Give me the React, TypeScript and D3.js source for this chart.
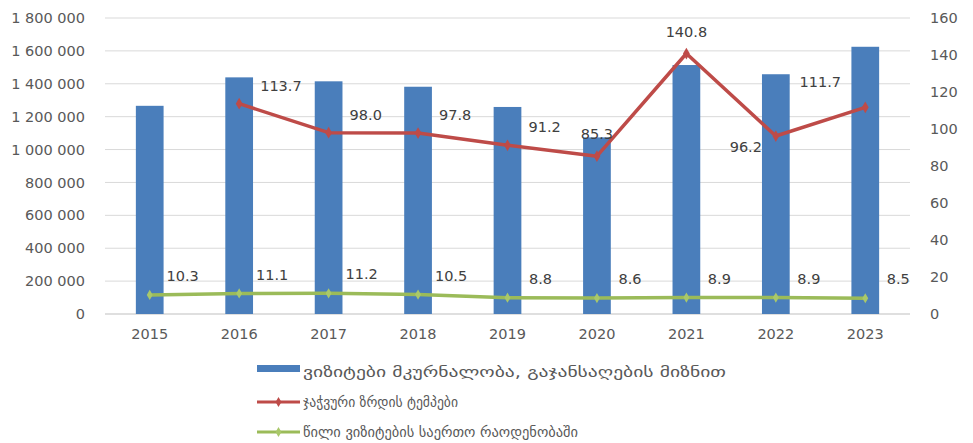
import React from "react";
import * as d3 from "d3";

const years = ["2015", "2016", "2017", "2018", "2019", "2020", "2021", "2022", "2023"];
const visits = [1266000, 1439000, 1415000, 1382000, 1259000, 1074000, 1514000, 1458000, 1625000];
const growth: (number | null)[] = [null, 113.7, 98.0, 97.8, 91.2, 85.3, 140.8, 96.2, 111.7];
const share = [10.3, 11.1, 11.2, 10.5, 8.8, 8.6, 8.9, 8.9, 8.5];
const growthLabelPlace = ["", "right", "right", "right", "right", "above", "above", "belowLeft", "leftAbove"];
const leftTicks = [0, 200000, 400000, 600000, 800000, 1000000, 1200000, 1400000, 1600000, 1800000];
const rightTicks = [0, 20, 40, 60, 80, 100, 120, 140, 160];
const legendLabels = [
  "ვიზიტები  მკურნალობა, გაჯანსაღების მიზნით",
  "ჯაჭვური ზრდის ტემპები",
  "წილი ვიზიტების საერთო რაოდენობაში",
];

const W = 973;
const H = 443;
const plotL = 105;
const plotR = 910;
const plotT = 18;
const plotB = 314;

const blue = "#4a7ebb";
const red = "#be4b48";
const green = "#9bbb59";
const textCol = "#595959";
const font = "DejaVu Sans, sans-serif";

const fmt = (v: number) => d3.format(",")(v).replace(/,/g, " ");

export default function App() {
  const x = d3.scaleBand<string>().domain(years).range([plotL, plotR]).paddingInner(0.69).paddingOuter(0.345);
  const xc = (y: string) => (x(y) as number) + x.bandwidth() / 2;
  const yL = d3.scaleLinear().domain([0, 1800000]).range([plotB, plotT]);
  const yR = d3.scaleLinear().domain([0, 160]).range([plotB, plotT]);

  const lineGen = d3
    .line<{ x: number; y: number }>()
    .x((d) => d.x)
    .y((d) => d.y);

  const redPts = years
    .map((y, i) => ({ x: xc(y), y: growth[i] == null ? NaN : yR(growth[i] as number), v: growth[i], i }))
    .filter((d) => d.v != null);
  const greenPts = years.map((y, i) => ({ x: xc(y), y: yR(share[i]), v: share[i], i }));

  const diamond = d3.symbol().type(d3.symbolDiamond).size(40)() as string;
  const diamondSmall = d3.symbol().type(d3.symbolDiamond).size(30)() as string;

  const redLabelPos = (p: { x: number; y: number }, place: string) => {
    switch (place) {
      case "above":
        return { x: p.x, y: p.y - 22, anchor: "middle" };
      case "belowLeft":
        return { x: p.x - 30, y: p.y + 11, anchor: "middle" };
      case "leftAbove":
        return { x: p.x - 45, y: p.y - 25, anchor: "middle" };
      default:
        return { x: p.x + 21, y: p.y - 18, anchor: "start" };
    }
  };

  const legendLens = [423, 155, 275];

  return (
    <svg
      width={W}
      height={H}
      style={{ position: "absolute", left: 0, top: 0, background: "#fff" }}
      fontFamily={font}
    >
      {leftTicks.map((t) => (
        <line key={t} x1={plotL} x2={plotR} y1={yL(t)} y2={yL(t)} stroke={t === 0 ? "#bfbfbf" : "#d9d9d9"} strokeWidth={1} />
      ))}
      {leftTicks.map((t) => (
        <text key={"l" + t} x={85} y={yL(t)} dy="0.35em" textAnchor="end" fontSize={14.5} fill={textCol}>
          {fmt(t)}
        </text>
      ))}
      {rightTicks.map((t) => (
        <text key={"r" + t} x={930} y={yR(t)} dy="0.35em" textAnchor="start" fontSize={14.5} fill={textCol}>
          {t}
        </text>
      ))}
      {years.map((y) => (
        <text key={"x" + y} x={xc(y)} y={334} dy="0.35em" textAnchor="middle" fontSize={14.5} fill={textCol}>
          {y}
        </text>
      ))}
      {years.map((y, i) => (
        <rect key={"b" + y} x={x(y)} y={yL(visits[i])} width={x.bandwidth()} height={plotB - yL(visits[i])} fill={blue} />
      ))}
      <path d={lineGen(redPts) as string} fill="none" stroke={red} strokeWidth={3.5} strokeLinejoin="round" />
      {redPts.map((p) => (
        <path key={"rm" + p.i} d={diamond} transform={`translate(${p.x},${p.y})`} fill={red} />
      ))}
      <path d={lineGen(greenPts) as string} fill="none" stroke={green} strokeWidth={3.5} strokeLinejoin="round" />
      {greenPts.map((p) => (
        <path key={"gm" + p.i} d={diamondSmall} transform={`translate(${p.x},${p.y})`} fill="#a9c86a" />
      ))}
      {redPts.map((p) => {
        const pos = redLabelPos(p, growthLabelPlace[p.i]);
        return (
          <text key={"rl" + p.i} x={pos.x} y={pos.y} dy="0.35em" textAnchor={pos.anchor as any} fontSize={14.5} fill="#404040">
            {(p.v as number).toFixed(1)}
          </text>
        );
      })}
      {greenPts.map((p) => (
        <text key={"gl" + p.i} x={p.x + 33} y={p.y - 19} dy="0.35em" textAnchor="middle" fontSize={14.5} fill="#404040">
          {p.v.toFixed(1)}
        </text>
      ))}
      <rect x={257} y={365} width={43} height={7} fill={blue} />
      <text x={303} y={372} dy="0.35em" fontSize={15} fill={textCol} textLength={legendLens[0]} lengthAdjust="spacingAndGlyphs">
        {legendLabels[0]}
      </text>
      <line x1={257} x2={300} y1={402} y2={402} stroke={red} strokeWidth={3} />
      <path d={diamondSmall} transform="translate(278.5,402)" fill={red} />
      <text x={303} y={402} dy="0.35em" fontSize={15} fill={textCol} textLength={legendLens[1]} lengthAdjust="spacingAndGlyphs">
        {legendLabels[1]}
      </text>
      <line x1={257} x2={300} y1={432} y2={432} stroke={green} strokeWidth={3} />
      <path d={diamondSmall} transform="translate(278.5,432)" fill="#a9c86a" />
      <text x={303} y={432} dy="0.35em" fontSize={15} fill={textCol} textLength={legendLens[2]} lengthAdjust="spacingAndGlyphs">
        {legendLabels[2]}
      </text>
    </svg>
  );
}
